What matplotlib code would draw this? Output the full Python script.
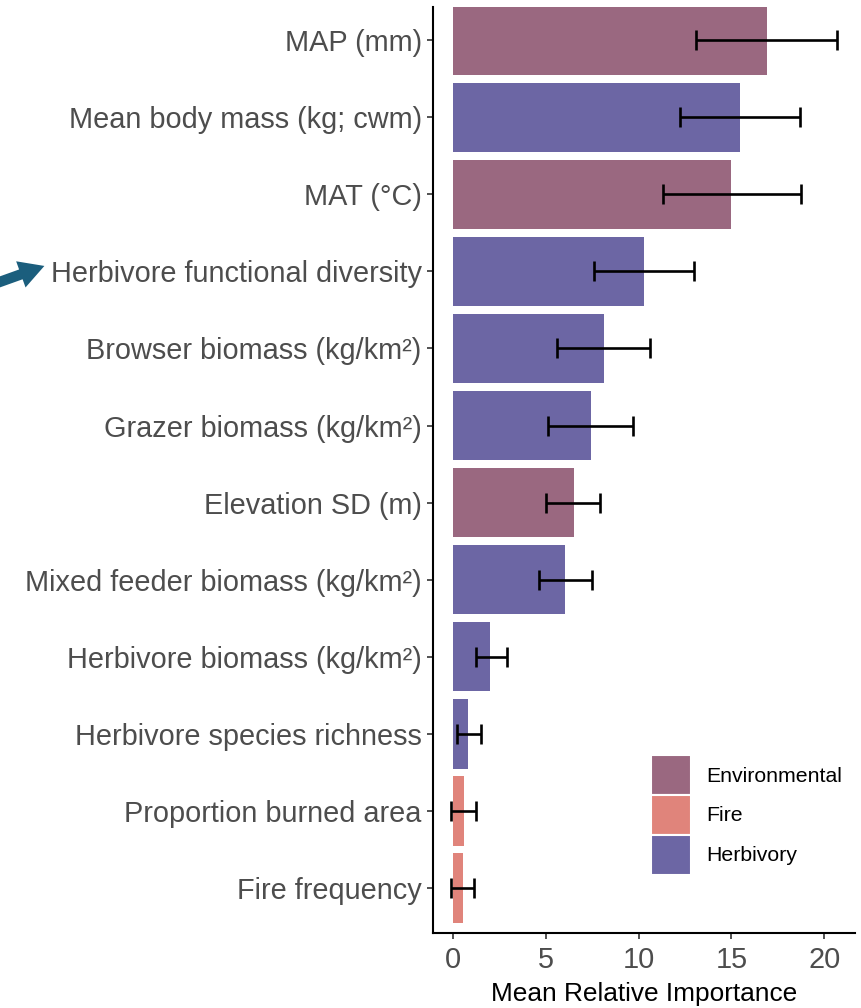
import matplotlib.pyplot as plt
from matplotlib.patches import Patch, FancyArrowPatch

# predictors, top to bottom
labels = [
    'MAP (mm)',
    'Mean body mass (kg; cwm)',
    'MAT (°C)',
    'Herbivore functional diversity',
    'Browser biomass (kg/km²)',
    'Grazer biomass (kg/km²)',
    'Elevation SD (m)',
    'Mixed feeder biomass (kg/km²)',
    'Herbivore biomass (kg/km²)',
    'Herbivore species richness',
    'Proportion burned area',
    'Fire frequency',
]
groups = ['Environmental', 'Herbivory', 'Environmental', 'Herbivory', 'Herbivory',
          'Herbivory', 'Environmental', 'Herbivory', 'Herbivory', 'Herbivory',
          'Fire', 'Fire']
importance = [16.9, 15.45, 15.0, 10.3, 8.1, 7.4, 6.5, 6.0, 2.0, 0.8, 0.55, 0.5]
err_low = [13.1, 12.2, 11.3, 7.6, 5.6, 5.1, 5.0, 4.6, 1.2, 0.2, -0.1, -0.1]
err_high = [20.7, 18.7, 18.75, 13.0, 10.6, 9.7, 7.9, 7.5, 2.9, 1.5, 1.2, 1.1]

colors = {'Environmental': '#9a6880', 'Fire': '#e0847b', 'Herbivory': '#6c66a4'}

fig = plt.figure(figsize=(8.61, 10.08), dpi=100)
ax = fig.add_axes([0.5026, 0.0744, 0.4904, 0.9186])

n = len(labels)
ypos = [n - 1 - i for i in range(n)]
ax.barh(ypos, importance, height=0.9, color=[colors[g] for g in groups],
        edgecolor='none')

mid = [(lo + hi) / 2 for lo, hi in zip(err_low, err_high)]
half = [(hi - lo) / 2 for lo, hi in zip(err_low, err_high)]
ax.errorbar(mid, ypos, xerr=half, fmt='none', ecolor='black', elinewidth=1.9,
            capsize=7, capthick=1.9)

ax.set_xlim(-1.11, 21.66)
ax.set_ylim(-0.584, n - 1 + 0.43)
ax.set_xticks([0, 5, 10, 15, 20])
ax.set_yticks(ypos)
ax.set_yticklabels(labels)
ax.tick_params(axis='both', labelsize=20.8, labelcolor='#4d4d4d', color='#333333',
               width=1.2, length=4)
ax.tick_params(axis='y', pad=4)
ax.tick_params(axis='x', pad=5)
for lab in ax.get_yticklabels() + ax.get_xticklabels():
    lab.set_family('Liberation Sans')

for side in ['top', 'right']:
    ax.spines[side].set_visible(False)
for side in ['left', 'bottom']:
    ax.spines[side].set_linewidth(1.5)
    ax.spines[side].set_color('black')

ax.set_xlabel('Mean Relative Importance', fontsize=18.9, family='Liberation Sans',
              labelpad=6)

handles = [Patch(facecolor=colors[g], edgecolor='white', linewidth=1.5, label=g)
           for g in ['Environmental', 'Fire', 'Herbivory']]
leg = ax.legend(handles=handles, loc='lower right', bbox_to_anchor=(1.005, 0.047),
                frameon=False, prop={'family': 'Liberation Sans', 'size': 15.3},
                handlelength=1.9, handleheight=2.5, handletextpad=0.7,
                labelspacing=0.0, borderaxespad=0.3)

# arrow pointing at the highlighted predictor (pixel coords, y from top)
H = 1008
arrow = FancyArrowPatch((-6, H - 284), (47, H - 265), transform=None,
                        arrowstyle='simple,head_length=18,head_width=20,tail_width=7.5',
                        mutation_scale=1, color='#1b5e7d', lw=0)
fig.patches.append(arrow)

fig.savefig('out.png', dpi=100)
